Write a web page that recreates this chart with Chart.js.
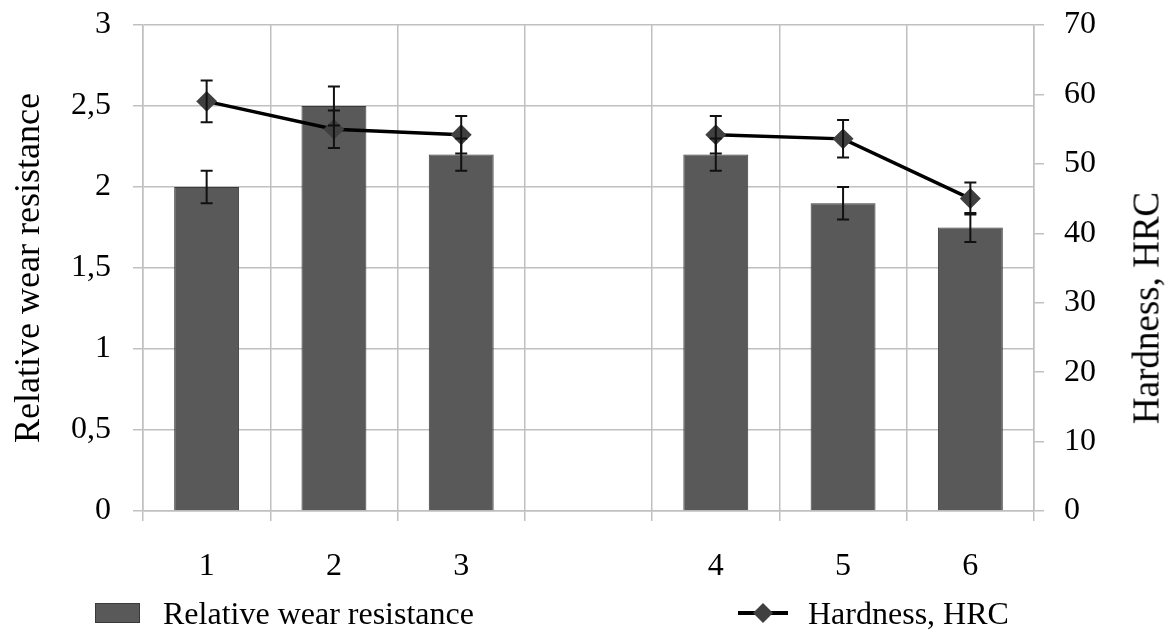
<!DOCTYPE html>
<html>
<head>
<meta charset="utf-8">
<script src="https://cdn.jsdelivr.net/npm/chart.js@4/dist/chart.umd.min.js"></script>
<style>
  html, body { margin: 0; padding: 0; background: #fff; }
  #wrap { position: relative; width: 1168px; height: 631px; }
  .legend-item { position: absolute; top: 596px; height: 34px; display: flex; align-items: center;
    font-family: 'Liberation Serif', 'Times New Roman', serif; font-size: 32px; color: #000; white-space: nowrap; }
  .legend-item canvas { margin-right: 22px; }
  #rightTitle { position: absolute; left: 1146px; top: 308px; transform: translate(-50%, -50%) rotate(-90deg);
    font-family: 'Liberation Serif', 'Times New Roman', serif; font-size: 37px; color: #000; white-space: nowrap; }
</style>
</head>
<body>
<div id="wrap">
  <canvas id="wearChart"></canvas>
  <div class="legend-item" id="legBar" style="left: 95px;"></div>
  <div class="legend-item" id="legLine" style="left: 738px;"></div>
  <div id="rightTitle"></div>
</div>
<script>
let sample_labels = ["1", "2", "3", "", "4", "5", "6"];
let wear_values = [2.0, 2.5, 2.2, null, 2.2, 1.9, 1.75];
let wear_errors = [0.1, 0.12, 0.1, null, 0.1, 0.1, 0.09];
let hardness_values = [59, 55, 54.2, null, 54.2, 53.6, 45];
let hardness_errors = [3, 2.7, 2.7, null, 2.7, 2.7, 2.3];
let series_names = ["Relative wear resistance", "Hardness, HRC"];

const fontName = "'Liberation Serif', 'Times New Roman', serif";
const gridColor = "#c0c0c0";

// legend swatches + text (kept outside the canvas so items can sit far apart)
function makeSwatch(kind) {
  const c = document.createElement("canvas");
  if (kind === "bar") {
    c.width = 46; c.height = 22;
    const g = c.getContext("2d");
    g.fillStyle = "#595959";
    g.fillRect(0, 1, 45, 20);
    g.strokeStyle = "#3a3a3a";
    g.lineWidth = 1;
    g.strokeRect(0.5, 1.5, 44, 19);
  } else {
    c.width = 50; c.height = 24;
    const g = c.getContext("2d");
    g.strokeStyle = "#000";
    g.lineWidth = 4;
    g.beginPath(); g.moveTo(0, 12); g.lineTo(50, 12); g.stroke();
    g.fillStyle = "#404040";
    g.beginPath(); g.moveTo(25, 2); g.lineTo(35, 12); g.lineTo(25, 22); g.lineTo(15, 12); g.closePath(); g.fill();
  }
  return c;
}
let legBar = document.getElementById("legBar");
legBar.appendChild(makeSwatch("bar"));
legBar.appendChild(document.createTextNode(series_names[0]));
let legLine = document.getElementById("legLine");
legLine.appendChild(makeSwatch("line"));
legLine.appendChild(document.createTextNode(series_names[1]));
legLine.querySelector("canvas").style.marginRight = "20px";
document.getElementById("rightTitle").textContent = series_names[1];

const errorBars = {
  id: "errorBars",
  afterDatasetsDraw(chart) {
    const ctx = chart.ctx;
    chart.data.datasets.forEach((ds, i) => {
      if (!ds.errors) return;
      const meta = chart.getDatasetMeta(i);
      const scale = chart.scales[ds.yAxisID];
      ctx.save();
      ctx.strokeStyle = "#111";
      ctx.lineWidth = 2;
      meta.data.forEach((el, j) => {
        const v = ds.data[j], e = ds.errors[j];
        if (v == null || e == null) return;
        const yTop = scale.getPixelForValue(v + e);
        const yBot = scale.getPixelForValue(v - e);
        const x = el.x;
        ctx.beginPath();
        ctx.moveTo(x, yTop); ctx.lineTo(x, yBot);
        ctx.moveTo(x - 6, yTop); ctx.lineTo(x + 6, yTop);
        ctx.moveTo(x - 6, yBot); ctx.lineTo(x + 6, yBot);
        ctx.stroke();
      });
      ctx.restore();
    });
  }
};

// keep the plot top close to the canvas edge (tick padding is otherwise added on top)
function trimTop(s) { s.paddingTop = 25; }

new Chart("wearChart", {
  type: "bar",
  data: {
    labels: sample_labels,
    datasets: [{
      type: "line",
      label: series_names[1],
      data: hardness_values,
      errors: hardness_errors,
      yAxisID: "y2",
      borderColor: "#000",
      borderWidth: 3.5,
      pointStyle: "rectRot",
      pointRadius: 8,
      pointBackgroundColor: "#404040",
      pointBorderColor: "#404040",
      spanGaps: false,
      fill: false,
      order: 0
    },
    {
      label: series_names[0],
      data: wear_values,
      errors: wear_errors,
      yAxisID: "y",
      backgroundColor: "#595959",
      borderColor: "#3a3a3a",
      borderWidth: 1,
      categoryPercentage: 1.0,
      barPercentage: 0.51,
      order: 1
    }]
  },
  options: {
    responsive: true,
    maintainAspectRatio: false,
    animation: false,
    layout: { padding: { left: 8, right: 4, top: 4, bottom: 25 } },
    plugins: {
      tooltip: { enabled: false },
      legend: { display: false }
    },
    scales: {
      x: {
        grid: { color: gridColor, lineWidth: 1.5, tickLength: 10, offset: true },
        border: { color: gridColor, width: 1.5 },
        ticks: { color: "#000", font: { family: fontName, size: 32 }, padding: 26 },
        afterFit(s) { s.height = 95; }
      },
      y: {
        position: "left",
        min: 0, max: 3,
        ticks: {
          stepSize: 0.5, color: "#000", padding: 22, autoSkip: false,
          font: { family: fontName, size: 32 },
          callback: v => String(v).replace(".", ",")
        },
        grid: { color: gridColor, lineWidth: 1.5, tickLength: 10 },
        border: { color: gridColor, width: 1.5 },
        title: { display: true, text: series_names[0], color: "#000", font: { family: fontName, size: 36 }, padding: 0 },
        afterFit(s) { s.width = 135; trimTop(s); }
      },
      y2: {
        position: "right",
        min: 0, max: 70,
        ticks: { stepSize: 10, color: "#000", padding: 20, autoSkip: false, font: { family: fontName, size: 32 } },
        grid: { drawOnChartArea: false, color: gridColor, lineWidth: 1.5, tickLength: 10 },
        border: { color: gridColor, width: 1.5 },
        afterFit(s) { s.width = 130; trimTop(s); }
      }
    }
  },
  plugins: [errorBars]
});
</script>
</body>
</html>
